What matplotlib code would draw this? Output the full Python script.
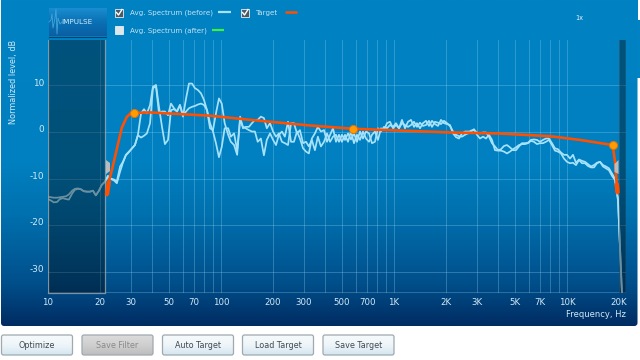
import matplotlib
matplotlib.use("Agg")
import matplotlib.pyplot as plt
import numpy as np
from matplotlib.colors import LinearSegmentedColormap
from matplotlib.patches import FancyBboxPatch, Polygon, Rectangle

plt.rcParams['font.family'] = ['DejaVu Sans']

# --- 1. Data ---
freq = [10.0, 10.4, 10.8, 11.3, 11.7, 12.2, 12.7, 13.2, 13.8, 14.3, 14.9, 15.5, 16.1, 16.8, 17.5, 18.2, 18.9, 19.7, 20.5, 21.3,
        22.2, 23.1, 24.1, 25.0, 26.1, 27.1, 28.2, 29.4, 30.6, 31.8, 33.1, 34.5, 35.9, 37.3, 38.9, 40.4, 42.1, 43.8, 45.6, 47.4,
        49.4, 51.4, 53.5, 55.7, 57.9, 60.3, 62.8, 65.3, 68.0, 70.7, 73.6, 76.6, 79.7, 83.0, 86.4, 89.9, 93.5, 97.3, 101, 105,
        110, 114, 119, 124, 129, 134, 139, 145, 151, 157, 163, 170, 177, 184, 192, 200, 208, 216, 225, 234,
        244, 254, 264, 275, 286, 298, 310, 322, 335, 349, 363, 378, 394, 410, 427, 444, 462, 481, 500, 521,
        542, 564, 587, 611, 636, 662, 689, 717, 746, 776, 808, 841, 875, 911, 948, 987, 1027, 1069, 1112, 1158,
        1205, 1254, 1305, 1358, 1413, 1471, 1531, 1593, 1658, 1725, 1796, 1869, 1945, 2024, 2107, 2193, 2282, 2375, 2472, 2572,
        2677, 2786, 2900, 3018, 3141, 3269, 3402, 3540, 3684, 3834, 3991, 4153, 4322, 4498, 4682, 4872, 5071, 5277, 5492, 5716,
        5949, 6191, 6443, 6706, 6979, 7263, 7559, 7867, 8187, 8520, 8867, 9228, 9604, 10000, 10407, 10831, 11272, 11731, 12209, 12706,
        13224, 13762, 14323, 14906, 15513, 16145, 16802, 17487, 18199, 18940, 19712, 20515, 20800]

spectrum_a = [-13.9, -14.0, -14.1, -14.1, -14.0, -13.9, -13.8, -13.4, -12.6, -12.2, -12.1, -12.3, -12.7, -12.8, -12.8, -12.6, -13.6, -12.6, -11.3, -10.7,
              -9.4, -10.0, -10.2, -10.6, -7.4, -6.4, -4.9, -4.2, -3.5, -2.8, -0.6, 4.0, 4.9, 4.0, 5.8, 9.7, 10.1, 5.4, 1.1, -2.6,
              -1.7, 4.7, 4.9, 4.4, 5.8, 3.6, 4.4, 5.1, 5.4, 5.6, 5.9, 6.1, 5.8, 4.7, 0.8, 0.4, 4.0, 7.2, 6.1, 1.9,
              -0.6, -2.1, -2.8, -4.9, 3.3, 0.8, 1.1, 1.1, 1.9, 2.6, 2.6, 3.3, 3.0, 0.8, 1.9, 0.1, -1.0, -0.3, -2.1, -2.4,
              -2.8, 1.9, 1.9, -0.3, 0.4, -2.4, -2.1, -3.1, -1.7, -3.9, -1.0, -3.1, -2.1, -0.3, -2.1, -1.0, -0.6, -2.1, -0.6, -1.7,
              -0.3, -1.6, -0.3, -2.1, 0.1, -1.4, 0.1, -0.3, -2.4, -2.1, 0.8, 0.1, 1.1, 0.8, 1.5, 1.1, 1.9, 0.8, 1.9, 1.5,
              1.1, 1.5, 2.2, 1.1, 2.0, 1.3, 1.5, 2.4, 1.1, 2.2, 2.0, 1.7, 2.4, 1.9,
              1.3, 0.1, -0.6, -0.9, -1.0, -0.6, -0.3, 0.3, 0.4, -0.1, -0.3, -0.1, -0.1, -1.0, -2.4, -3.1, -3.9, -3.7, -3.0, -2.8,
              -3.3, -3.9, -3.9, -3.1, -2.4, -2.4, -2.3, -1.7, -1.6, -1.7, -2.1, -1.7, -1.4, -1.4, -2.4, -3.5, -3.7, -4.4, -4.9, -4.9,
              -5.7, -4.9, -6.6, -5.9, -6.2, -6.4, -6.9, -7.4, -7.1, -6.6, -6.4, -7.1, -7.4, -7.8, -8.9, -10.0, -14.3, -30.0, -35.0]

spectrum_b = [-14.4, -14.7, -15.1, -15.0, -14.4, -14.2, -14.4, -14.5, -13.2, -12.4, -12.2, -12.3, -12.7, -12.8, -12.8, -12.6, -13.6, -12.6, -11.3, -10.7,
              -9.6, -10.1, -10.4, -11.0, -8.5, -6.6, -5.0, -4.3, -3.5, -2.8, -0.7, -1.2, -0.8, -0.3, 1.9, 9.4, 9.8, 4.0, 4.4, 4.4,
              3.6, 6.1, 5.1, 4.4, 5.8, 3.3, 7.2, 10.4, 10.4, 9.4, 9.0, 8.3, 6.9, 4.7, 1.9, 0.1, -2.4, -5.4, -3.2, 0.8,
              0.8, -1.0, -0.3, -3.9, 2.6, 1.1, 0.8, 0.4, 0.1, 0.1, -2.1, -1.4, -5.0, -1.7, -0.3, -1.7, -2.8, -0.6, 0.1, -1.0,
              2.2, -2.1, -2.1, 0.1, -1.4, -3.5, -4.2, -4.6, -1.4, -0.3, 1.1, 0.1, 0.4, -2.1, -0.6, 0.8, -2.1, -0.6, -2.1, -0.6,
              -2.1, 0.1, -2.4, -0.6, -1.7, 0.1, -1.4, -2.1, -0.6, 0.1, -1.7, 0.8, 0.4, 1.9, 2.2, 0.8, 1.5, 0.8, 2.6, 0.8,
              2.2, 2.6, 1.1, 1.9, 0.8, 1.9, 2.4, 1.3, 2.4, 1.7, 1.3, 2.6, 1.9, 1.7,
              1.5, -0.3, -1.1, -1.4, -0.3, 0.1, 0.1, 0.1, 0.6, -0.6, -1.4, -1.0, -1.4, -0.6, -1.7, -3.9, -4.0, -4.0, -4.2, -4.6,
              -4.2, -3.7, -3.3, -2.8, -2.6, -2.6, -2.4, -1.9, -2.1, -2.6, -2.4, -2.4, -2.1, -1.7, -2.8, -4.0, -4.2, -4.6, -5.7, -6.4,
              -6.7, -6.6, -7.1, -6.0, -6.7, -6.7, -7.3, -7.6, -7.6, -6.7, -6.4, -7.4, -7.8, -8.2, -9.4, -10.3, -14.7, -30.0, -35.0]

target_freq = [21.9, 22.5, 23.4, 24.9, 26.7, 28.5, 30.2, 31.4, 38.9, 86.4, 168, 327, 580, 2107, 3940, 7975, 11890, 18370, 18950, 19360, 19610]
target_db = [-13.5, -10.5, -8.2, -3.9, 0.9, 3.2, 4.1, 4.1, 4.2, 3.5, 2.4, 1.4, 0.7, -0.1, -0.3, -0.9, -1.7, -2.8, -6.4, -11.0, -13.1]

node_freq = [31.4, 580, 18370]
node_db = [4.1, 0.7, -2.8]

grid_freq = [10, 20, 30, 40, 50, 60, 70, 80, 90, 100, 200, 300, 400, 500, 600, 700, 800, 900, 1000,
             2000, 3000, 4000, 5000, 6000, 7000, 8000, 9000, 10000, 20000]
label_freq = [10, 20, 30, 50, 70, 100, 200, 300, 500, 700, 1000, 2000, 3000, 5000, 7000, 10000, 20000]
label_text = ['10', '20', '30', '50', '70', '100', '200', '300', '500', '700', '1K', '2K', '3K', '5K', '7K', '10K', '20K']
db_ticks = [10, 0, -10, -20, -30]
db_labels = ['10', '0', '-10', '-20', '-30']

button_names = ['Optimize', 'Save Filter', 'Auto Target', 'Load Target', 'Save Target']

# --- 2. Background layer, drawn in pixels ---
fig = plt.figure(figsize=(6.4, 3.6), dpi=100, facecolor='white')
bg = fig.add_axes([0, 0, 1, 1])
bg.set_xlim(0, 640)
bg.set_ylim(360, 0)
bg.axis('off')

panel_cmap = LinearSegmentedColormap.from_list('panel', [(0, '#0082c3'), (0.5, '#0080c0'), (0.66, '#0070ae'),
                                                         (0.87, '#004f8b'), (1, '#002c62')])
grad = np.linspace(0, 1, 256).reshape(-1, 1)
panel_im = bg.imshow(grad, cmap=panel_cmap, extent=[1, 637.5, 326, 0], aspect='auto', zorder=1)
panel_clip = FancyBboxPatch((1, -6), 636.5, 332, boxstyle='round,pad=0,rounding_size=3', transform=bg.transData,
                            facecolor='none', edgecolor='none')
bg.add_patch(panel_clip)
panel_im.set_clip_path(panel_clip)
bg.set_xlim(0, 640)
bg.set_ylim(360, 0)

# strip of blue at the right edge, with the white box above it
bg.add_patch(Rectangle((637, 20), 3, 58, facecolor='#0082c3', edgecolor='none', zorder=2))
bg.add_patch(Rectangle((637, 0), 3, 20, facecolor='#0082c3', edgecolor='none', zorder=2))
bg.add_patch(Rectangle((638, 0), 2, 20, facecolor='white', edgecolor='none', zorder=2))

# IMPULSE button
btn_cmap = LinearSegmentedColormap.from_list('impulse', ['#1a8ed0', '#0a70b4', '#0a5fa4'])
bg.imshow(grad, cmap=btn_cmap, extent=[48.5, 106, 36, 8], aspect='auto', zorder=2)
bg.plot([48.5, 106], [36.5, 36.5], color='#00406f', lw=0.8, zorder=3)
bg.plot([49, 51, 52, 53, 55, 56, 57, 58, 60, 62], [22, 20, 14, 28, 18, 9, 34, 18, 24, 22], color='#3fa6dc', lw=0.6, zorder=3)
bg.set_xlim(0, 640)
bg.set_ylim(360, 0)
bg.text(61, 22, 'IMPULSE', color='#d5ecf8', fontsize=5.2, va='center', ha='left', zorder=4)


def checkbox(x, y, checked):
    col = '#4a5a66' if checked else '#dfe6ea'
    bg.add_patch(Rectangle((x, y), 8, 8, facecolor=col, edgecolor='#e6eef2', lw=0.6, zorder=3))
    if checked:
        bg.plot([x + 1.5, x + 3.5, x + 7], [y + 4, y + 6.5, y + 1], color='white', lw=1.0, zorder=4)


checkbox(115, 8.5, True)
checkbox(241, 8.5, True)
checkbox(115, 26, False)
head_col = '#c6e3f3'
bg.text(130, 12.5, 'Avg. Spectrum (before)', color=head_col, fontsize=5.1, va='center', zorder=4)
bg.text(130, 30.5, 'Avg. Spectrum (after)', color=head_col, fontsize=5.1, va='center', zorder=4)
bg.text(256, 12.5, 'Target', color=head_col, fontsize=5.1, va='center', zorder=4)
bg.plot([218, 231], [11.7, 11.7], color='#a6e2fb', lw=1.6, solid_capstyle='butt', zorder=4)
bg.plot([285, 297], [11.7, 11.7], color='#ff4f00', lw=1.8, solid_capstyle='butt', zorder=4)
bg.plot([212, 224], [29.7, 29.7], color='#3df23d', lw=1.6, solid_capstyle='butt', zorder=4)
bg.text(579, 18.5, '1x', color='#e6f3fa', fontsize=4.8, ha='center', va='center', zorder=4)

# Buttons under the panel
button_x = [1.5, 82, 162.5, 242.5, 323]
face_cmap = LinearSegmentedColormap.from_list('btn', ['#f6fafc', '#eef5f9', '#d3e6f0'])
gray_cmap = LinearSegmentedColormap.from_list('btn_off', ['#dcdcdc', '#cfcfcf', '#bdbdbd'])
for name, bx in zip(button_names, button_x):
    off = name == 'Save Filter'
    im = bg.imshow(grad, cmap=gray_cmap if off else face_cmap, extent=[bx, bx + 71, 355, 335], aspect='auto', zorder=2)
    edge = FancyBboxPatch((bx, 335), 71, 20, boxstyle='round,pad=0,rounding_size=2', facecolor='none',
                          edgecolor='#9fa9ae', lw=0.9, zorder=3)
    bg.add_patch(edge)
    im.set_clip_path(edge)
    bg.text(bx + 35.5, 345.7, name, color='#8a8a8a' if off else '#3f4a50', fontsize=5.8, ha='center', va='center', zorder=4)
bg.set_xlim(0, 640)
bg.set_ylim(360, 0)

# --- 3. Chart ---
ax = fig.add_axes([48 / 640, (360 - 293) / 360, 578 / 640, 253.5 / 360])
ax.patch.set_alpha(0)
ax.set_xscale('log')
ax.set_xlim(10, 21930)
ax.set_ylim(-34.55, 19.85)
for s in ax.spines.values():
    s.set_visible(False)

ax.set_xticks(grid_freq)
ax.set_xticklabels([])
ax.minorticks_off()
ax.set_yticks(db_ticks)
ax.set_yticklabels([])
ax.tick_params(length=0)
grid_col = '#8fd0ef'
ax.grid(True, color=grid_col, lw=0.7, alpha=0.32)
ax.set_axisbelow(True)
ax.axhline(19.85, color=grid_col, lw=1.2, alpha=0.35)
ax.axhline(-34.55, color=grid_col, lw=1.2, alpha=0.35)

ax.plot(freq, spectrum_a, color='#a6e2fb', lw=1.25, zorder=3)
ax.plot(freq, spectrum_b, color='#a6e2fb', lw=1.25, zorder=3)

# dark shaded bands at both ends, over the curves
ax.axvspan(10, 21.45, facecolor='black', alpha=0.36, edgecolor='none', zorder=4)
ax.axvspan(19850, 21930, facecolor='black', alpha=0.36, edgecolor='none', zorder=4)
ax.axvline(10, color='#9aa6ac', lw=0.9, zorder=4, alpha=0.8)
ax.axvline(21.45, color='#9aa6ac', lw=0.9, zorder=4, alpha=0.8)
ax.axvline(21930, color='#9aa6ac', lw=0.9, zorder=4, alpha=0.8)
ax.plot([10, 21.45], [-34.55, -34.55], color='#9aa6ac', lw=0.9, zorder=4, alpha=0.8, clip_on=False)

# target curve, thicker at the two cut ends
ax.plot(target_freq, target_db, color='#ff4f00', lw=1.9, zorder=5, solid_joinstyle='round')
ax.plot(target_freq[:2], target_db[:2], color='#ff4f00', lw=3.2, zorder=5, solid_capstyle='butt')
ax.plot(target_freq[-2:], target_db[-2:], color='#ff4f00', lw=3.2, zorder=5, solid_capstyle='butt')
ax.plot(node_freq, node_db, 'o', color='#ff9c00', mec='#e8700a', mew=0.7, ms=5.8, zorder=6)

# gray handles of the band limits
bg_tabs = fig.add_axes([0, 0, 1, 1], label='tabs')
bg_tabs.set_xlim(0, 640)
bg_tabs.set_ylim(360, 0)
bg_tabs.axis('off')
bg_tabs.patch.set_alpha(0)
bg_tabs.add_patch(Polygon([[106, 160], [110, 163], [110, 171], [106, 174]], closed=True, facecolor='#b9bcbe', edgecolor='none'))
bg_tabs.add_patch(Polygon([[618.5, 160], [614.5, 164], [614.5, 172], [618.5, 174]], closed=True, facecolor='#b9bcbe', edgecolor='none'))

# tick labels as separate text so they sit where the original has them
lab_col = '#d3e9f6'
for f, t in zip(label_freq, label_text):
    ax.annotate(t, (f, 0), xycoords=ax.get_xaxis_transform(), xytext=(0, -6.5), textcoords='offset points',
                ha='center', va='center', color=lab_col, fontsize=6.2)
for v, t in zip(db_ticks, db_labels):
    ax.annotate(t, (0, v), xycoords=ax.get_yaxis_transform(), xytext=(-3, 1.6), textcoords='offset points',
                ha='right', va='center', color=lab_col, fontsize=6.4)
fig.text(626 / 640, 1 - 314.5 / 360, 'Frequency, Hz', color=lab_col, fontsize=6.0, ha='right', va='center')
fig.text(13.5 / 640, 1 - 82 / 360, 'Normalized level, dB', color=lab_col, fontsize=5.9, rotation=90, ha='center', va='center')

fig.savefig('out.png', dpi=100)
